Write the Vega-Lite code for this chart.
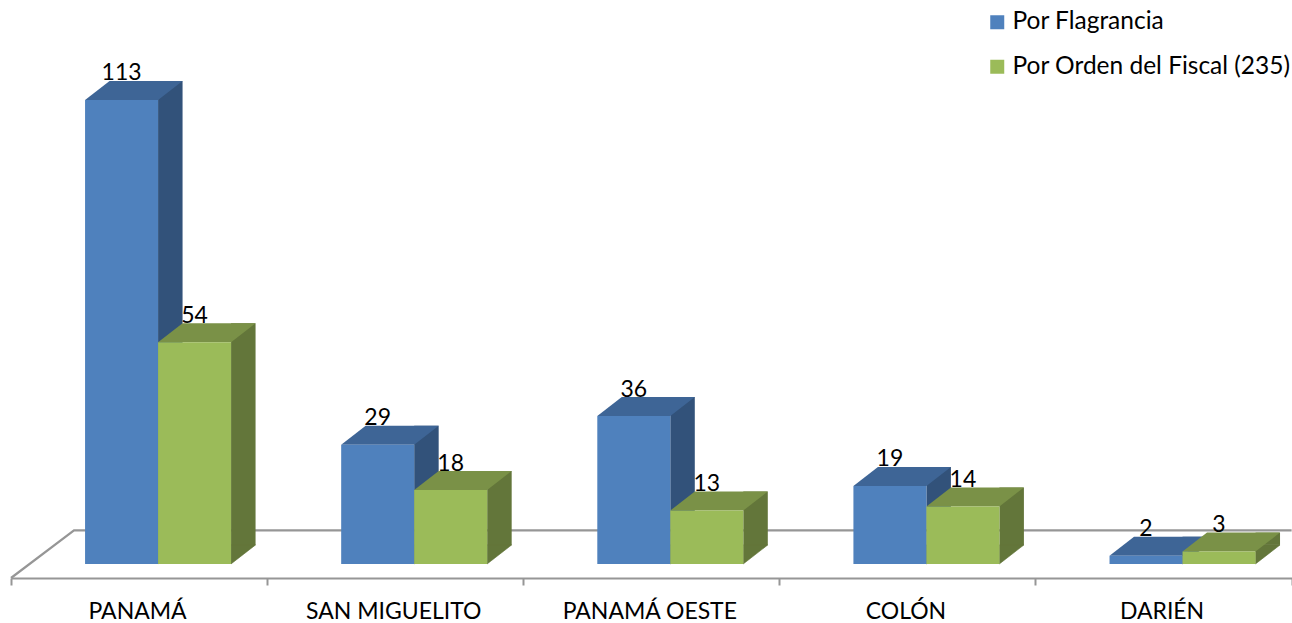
{"$schema":"https://vega.github.io/schema/vega-lite/v6.json","width":1280.6,"height":568,"autosize":{"type":"none"},"padding":{"left":11,"top":10,"right":0,"bottom":45},"background":"white","config":{"view":{"stroke":null},"font":"Lato"},"datasets":{"casos":[{"region":"PANAMÁ","series":"Por Flagrancia","value":113},{"region":"PANAMÁ","series":"Por Orden del Fiscal (235)","value":54},{"region":"SAN MIGUELITO","series":"Por Flagrancia","value":29},{"region":"SAN MIGUELITO","series":"Por Orden del Fiscal (235)","value":18},{"region":"PANAMÁ OESTE","series":"Por Flagrancia","value":36},{"region":"PANAMÁ OESTE","series":"Por Orden del Fiscal (235)","value":13},{"region":"COLÓN","series":"Por Flagrancia","value":19},{"region":"COLÓN","series":"Por Orden del Fiscal (235)","value":14},{"region":"DARIÉN","series":"Por Flagrancia","value":2},{"region":"DARIÉN","series":"Por Orden del Fiscal (235)","value":3}],"suelo":[{"tramo":0,"nivel":-3.43},{"tramo":0.246,"nivel":8.16},{"tramo":5,"nivel":8.16}]},"layer":[{"data":{"name":"suelo"},"mark":{"type":"line","color":"#969696","strokeWidth":2.2},"encoding":{"x":{"field":"tramo","type":"quantitative","axis":null,"scale":{"domain":[0,5],"nice":false,"zero":false}},"y":{"field":"nivel","type":"quantitative","axis":null,"scale":{"domain":[-3.43,134.9],"nice":false,"zero":false}}}},{"data":{"name":"casos"},"encoding":{"x":{"field":"region","type":"nominal","sort":null,"title":null,"scale":{"padding":0},"axis":{"tickBand":"extent","labelAngle":0,"labelFontSize":23,"labelFont":"Lato","labelColor":"#000000","labelLimit":300,"labelOffset":-2,"domainColor":"#969696","domainWidth":2.2,"tickColor":"#969696","tickWidth":2,"tickSize":7,"labelPadding":16,"grid":false}},"y":{"field":"value","type":"quantitative","axis":null,"scale":{"domain":[-3.43,134.9],"nice":false,"zero":false}}},"layer":[{"transform":[{"filter":"datum.series === 'Por Flagrancia'"}],"layer":[{"mark":{"type":"bar","width":24.5,"color":"#32527A","xOffset":31.25,"yOffset":-19,"y2Offset":-19},"encoding":{"y2":{"datum":0}}},{"mark":{"type":"point","filled":true,"opacity":1,"size":10000,"shape":"M-0.245,0L0.245,-0.38L-0.245,-0.38Z","color":"#32527A","stroke":"#32527A","strokeWidth":0.6,"xOffset":31.25},"encoding":{"y":{"datum":0,"type":"quantitative"}}},{"mark":{"type":"point","filled":true,"opacity":1,"size":10000,"shape":"M-0.73,0L0.73,0L1.22,-0.38L-0.24,-0.38Z","color":"#3E6596","xOffset":-17.5}},{"mark":{"type":"bar","width":73,"xOffset":-17.5},"encoding":{"y2":{"datum":0},"color":{"field":"series","type":"nominal","title":null,"scale":{"domain":["Por Flagrancia","Por Orden del Fiscal (235)"],"range":["#4F81BD","#9BBB59"]},"legend":{"orient":"none","legendX":974,"legendY":0,"title":null,"padding":0,"symbolType":"square","symbolSize":196,"symbolStrokeWidth":0,"symbolOpacity":1,"labelFontSize":24.5,"labelFont":"Lato","labelColor":"#000000","labelLimit":320,"labelOffset":3,"rowPadding":19.5}}}}]},{"transform":[{"filter":"datum.series !== 'Por Flagrancia'"}],"layer":[{"mark":{"type":"bar","width":24.5,"color":"#63763A","xOffset":104.25,"yOffset":-19,"y2Offset":-19},"encoding":{"y2":{"datum":0}}},{"mark":{"type":"point","filled":true,"opacity":1,"size":10000,"shape":"M-0.245,0L0.245,-0.38L-0.245,-0.38Z","color":"#63763A","stroke":"#63763A","strokeWidth":0.6,"xOffset":104.25},"encoding":{"y":{"datum":0,"type":"quantitative"}}},{"mark":{"type":"point","filled":true,"opacity":1,"size":10000,"shape":"M-0.73,0L0.73,0L1.22,-0.38L-0.24,-0.38Z","color":"#7A9147","xOffset":55.5}},{"mark":{"type":"bar","width":73,"xOffset":55.5},"encoding":{"y2":{"datum":0},"color":{"field":"series","type":"nominal","title":null}}}]},{"transform":[{"filter":"datum.series === 'Por Flagrancia'"}],"mark":{"type":"text","xOffset":-17.5,"dy":-26.5,"fontSize":23,"font":"Lato","color":"#000000","baseline":"middle"},"encoding":{"text":{"field":"value","type":"quantitative"}}},{"transform":[{"filter":"datum.series !== 'Por Flagrancia'"}],"mark":{"type":"text","xOffset":55.5,"dy":-26.5,"fontSize":23,"font":"Lato","color":"#000000","baseline":"middle"},"encoding":{"text":{"field":"value","type":"quantitative"}}}]}],"resolve":{"scale":{"x":"independent"}}}
